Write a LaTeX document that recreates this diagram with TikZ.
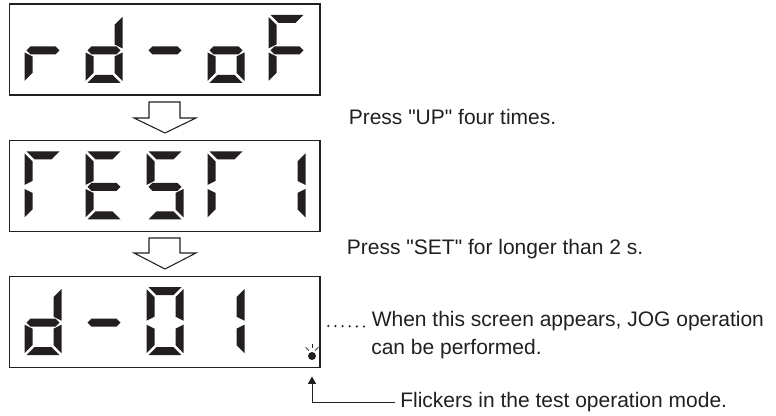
\documentclass[tikz,border=0pt]{standalone}
\usepackage{fontspec}
\setmainfont{Liberation Sans}
\usetikzlibrary{arrows.meta,calc}
\definecolor{ink}{RGB}{35,31,32}
\newcommand\sq{\XeTeXglyph\XeTeXcharglyph"22\relax}
% seven-segment pieces in local pixel coordinates (digit 37 x 68)
\newcommand\sgA{\fill[ink] (2,0)--(35,0)--(27,8)--(10,8)--cycle;}
\newcommand\sgD{\fill[ink] (2,68)--(35,68)--(27,60)--(10,60)--cycle;}
\newcommand\sgG{\fill[ink] (2,35.5)--(6,31.5)--(31,31.5)--(35,35.5)--(31,39.5)--(6,39.5)--cycle;}
\newcommand\sgF{\fill[ink] (0,2)--(8,10)--(8,29.5)--(0,33.5)--cycle;}
\newcommand\sgE{\fill[ink] (0,37.5)--(8,41.5)--(8,58)--(0,66)--cycle;}
\newcommand\sgB{\fill[ink] (37,2)--(29,10)--(29,29.5)--(37,33.5)--cycle;}
\newcommand\sgC{\fill[ink] (37,37.5)--(29,41.5)--(29,58)--(37,66)--cycle;}
\newcommand\sevdig[3]{\begin{scope}[shift={(#1,#2)}]#3\end{scope}}
\tikzset{
  dispbox/.style={draw=ink, line width=1pt, minimum width=232.9pt, minimum height=68.25pt, inner sep=0pt},
  lbl/.style={font=\fontsize{15.75pt}{18pt}\selectfont, text=ink, inner sep=0pt, anchor=base west},
  hollow/.style={draw=ink, line width=0.8pt, line join=miter, fill=white},
  conn/.style={draw=ink, line width=0.75pt, -{Triangle[width=6pt,length=5.5pt]}},
  dotsline/.style={draw=ink, line width=1.8pt, line cap=round, dash pattern=on 0pt off 5.35pt},
  ray/.style={draw=ink, line width=0.6pt}
}
\begin{document}
\begin{tikzpicture}[x=0.75pt,y=-0.75pt]
\useasboundingbox (0,0) rectangle (776,416);
% display boxes
\node[dispbox] (b1) at (164.75,49.5) {};
\node[dispbox] (b2) at (164.75,186) {};
\node[dispbox] (b3) at (164.75,321.75) {};
% display 1: r d - o F
\sevdig{24.5}{15}{\sgE\sgG}
\sevdig{85.5}{15}{\sgB\sgC\sgD\sgE\sgG}
\sevdig{146.5}{15}{\sgG}
\sevdig{207.5}{15}{\sgC\sgD\sgE\sgG}
\sevdig{268.5}{15}{\sgA\sgE\sgF\sgG}
% display 2: T E S T 1
\sevdig{24.5}{151.5}{\sgA\sgE\sgF}
\sevdig{85.5}{151.5}{\sgA\sgD\sgE\sgF\sgG}
\sevdig{146.5}{151.5}{\sgA\sgC\sgD\sgF\sgG}
\sevdig{207.5}{151.5}{\sgA\sgE\sgF}
\sevdig{268.5}{151.5}{\sgB\sgC}
% display 3: d - 0 1
\sevdig{24.5}{287.25}{\sgB\sgC\sgD\sgE\sgG}
\sevdig{85.5}{287.25}{\sgG}
\sevdig{146.5}{287.25}{\sgA\sgB\sgC\sgD\sgE\sgF}
\sevdig{207.5}{287.25}{\sgB\sgC}
% flickering point
\fill[ink] (312,356) circle[radius=3pt];
\draw[ray] (305.7,347.3)--(308.8,350.5);
\draw[ray] (311.9,344)--(311.9,348.5);
\draw[ray] (315.2,350.5)--(318.3,347.3);
% hollow arrows
\draw[hollow] (149,102)--(180,102)--(180,118)--(196,118)--(165,133)--(134,118)--(149,118)--cycle;
\draw[hollow] (149,238)--(180,238)--(180,253)--(196,253)--(165,269)--(134,253)--(149,253)--cycle;
% texts
\node[lbl] (up) at (348.5,124.5) {Press \sq UP\sq\ four times.};
\node[lbl] (set) at (346.7,255) {Press \sq SET\sq\ for longer than 2 s.};
\node[lbl] (when1) at (371.5,326.5) {When this screen appears, JOG operation};
\node[lbl] (when2) at (371,355) {can be performed.};
\node[lbl] (flk) at (400,408) {Flickers in the test operation mode.};
% leaders
\coordinate (dstart) at (328.3,326);
\draw[dotsline] (dstart) -- ([xshift=-5.2pt]when1.base west);
\coordinate (tip) at (312,376.5);
\draw[conn] ([xshift=-3.75pt]flk.west) -| (tip);
\end{tikzpicture}
\end{document}
